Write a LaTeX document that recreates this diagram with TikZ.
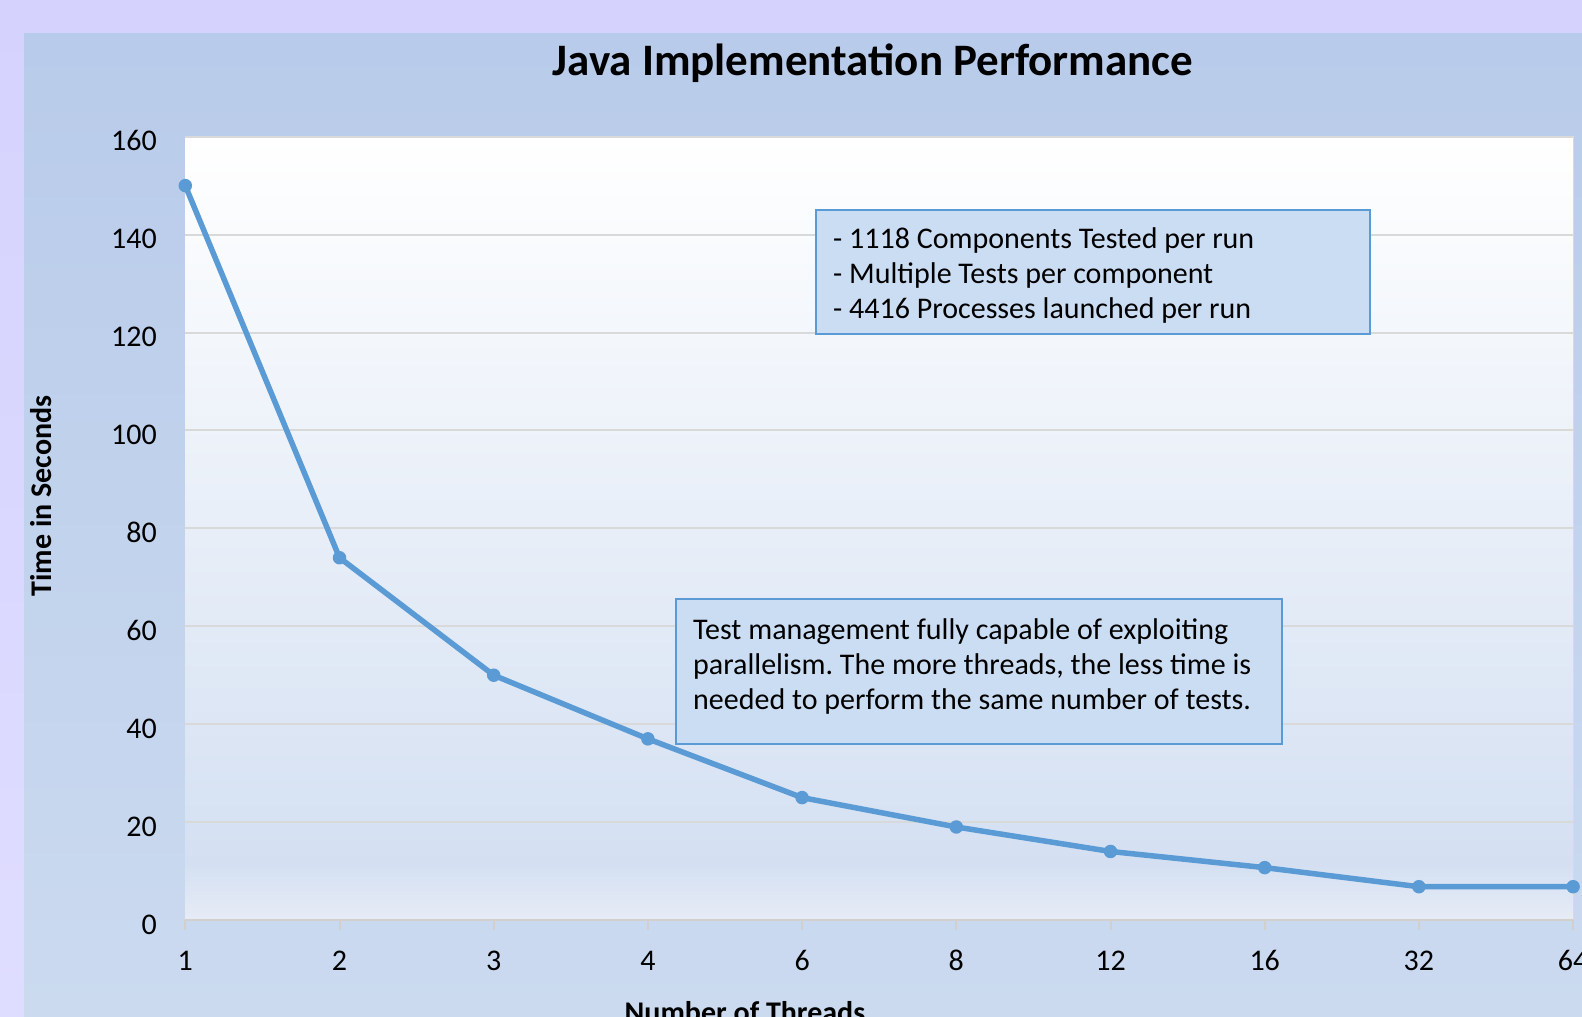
\documentclass[tikz,border=0pt]{standalone}
\usepackage{fontspec}
\setmainfont{Carlito}
\frenchspacing
\definecolor{outerTop}{RGB}{213,210,254}
\definecolor{outerBot}{RGB}{223,221,255}
\definecolor{chartTop}{RGB}{184,203,234}
\definecolor{chartBot}{RGB}{203,218,239}
\definecolor{plotMid}{RGB}{212,224,242}
\definecolor{plotBot}{RGB}{231,236,246}
\definecolor{series}{RGB}{91,155,213}
\definecolor{gridc}{RGB}{217,217,217}
\definecolor{axisc}{RGB}{210,207,204}
\definecolor{boxfill}{RGB}{203,221,243}
\begin{document}
\begin{tikzpicture}[x=1pt,y=-1pt,
  every node/.style={font=\fontsize{30}{35}\selectfont, text=black, inner sep=0pt},
  ticklab/.style={anchor=base},
  ylab/.style={anchor=base east},
  axtitle/.style={font=\fontsize{30}{35}\selectfont\bfseries},
  charttitle/.style={font=\fontsize{45}{54}\selectfont\bfseries, anchor=base},
  note/.style={draw=series, line width=1.6pt, fill=boxfill, rectangle, anchor=north west},
  notetext/.style={align=left, anchor=north west},
  marker/.style={circle, fill=series, minimum size=13.5pt, inner sep=0pt},
  gridline/.style={draw=gridc, line width=2pt},
  axisline/.style={draw=axisc, line width=2pt},
  seriesline/.style={draw=series, line width=5.5pt, line join=round, line cap=round}
]
\useasboundingbox (0,0) rectangle (1582,1017);
\clip (0,0) rectangle (1582,1017);
% backgrounds
\shade[top color=outerTop, bottom color=outerBot] (0,0) rectangle (1582,1017);
\shade[top color=chartTop, bottom color=chartBot] (24,33) rectangle (1582,1017);
\shade[top color=white, bottom color=plotMid] (185.3,136.7) rectangle (1573.3,865);
\shade[top color=plotMid, bottom color=plotBot] (185.3,865) rectangle (1573.3,920);
% grid
\foreach \v in {20,40,...,160} {
  \draw[gridline] (185.3,{920-4.8958*\v}) -- (1573.3,{920-4.8958*\v});
}
\draw[gridc, line width=1.5pt] (1573.3,136.7) -- (1573.3,920);
% axis
\draw[axisline] (185.3,920) -- (1573.3,920);
\foreach \i in {0,...,9} {
  \draw[axisline] ({185.3+154.2*\i},920) -- ({185.3+154.2*\i},930);
}
% labels
\foreach \i/\lab in {0/1,1/2,2/3,3/4,4/6,5/8,6/12,7/16,8/32,9/64} {
  \node[ticklab] (xl\i) at ({185.3+154.2*\i},970) {\lab};
}
\foreach \v in {0,20,...,160} {
  \node[ylab] (yl\v) at (157,{920-4.8958*\v+14}) {\v};
}
\node[charttitle] (title) at (873,75) {Java Implementation Performance};
\node[axtitle, rotate=90, anchor=base] (ytitle) at (51.5,496) {Time in Seconds};
\node[axtitle, anchor=base] (xtitle) at (745,1022.5) {Number of Threads};
% notes
\node[note, minimum width=554pt, minimum height=124pt] (box1) at (815,209) {};
\node[notetext] (box1text) at (833,227) {- 1118 Components Tested per run\\- Multiple Tests per component\\- 4416 Processes launched per run};
\node[note, minimum width=606pt, minimum height=145pt] (box2) at (675,598) {};
\node[notetext] (box2text) at (693,618) {Test management fully capable of exploiting\\parallelism. The more threads, the less time is\\needed to perform the same number of tests.};
% series
\foreach \i/\v in {0/150,1/74,2/50,3/37,4/25,5/19,6/14,7/10.7,8/6.8,9/6.8} {
  \node[marker] (p\i) at ({185.3+154.2*\i},{920-4.8958*\v}) {};
}
\draw[seriesline] (p0.center) -- (p1.center) -- (p2.center) -- (p3.center) -- (p4.center) -- (p5.center) -- (p6.center) -- (p7.center) -- (p8.center) -- (p9.center);
\end{tikzpicture}
\end{document}
